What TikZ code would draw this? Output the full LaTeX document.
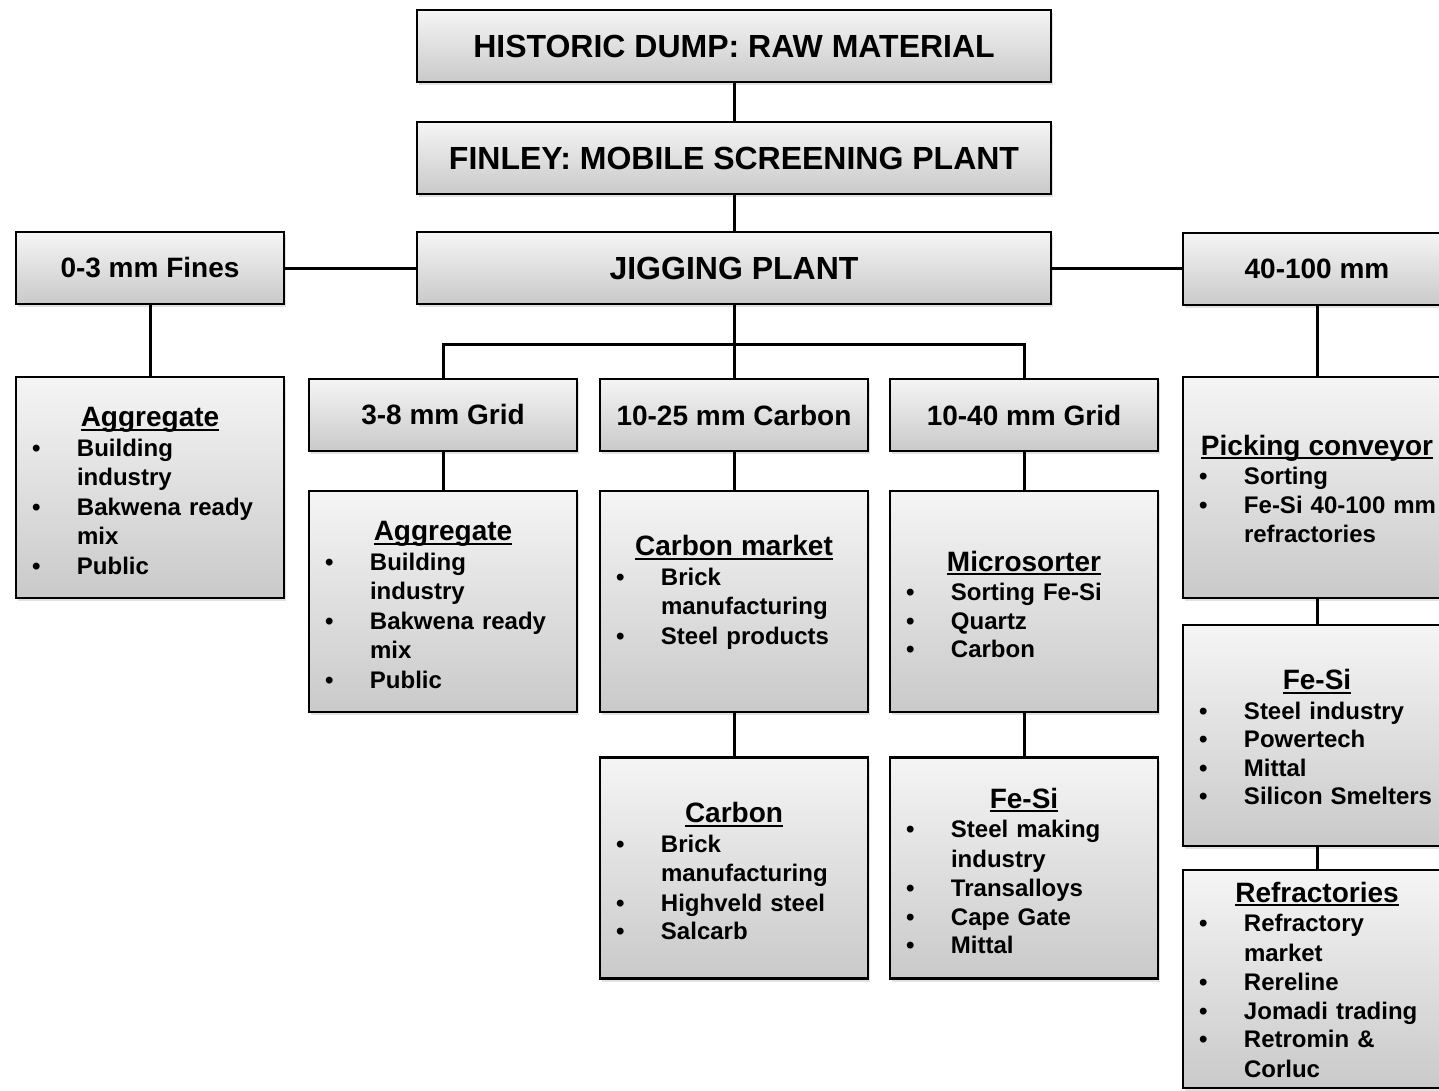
\documentclass[tikz,border=0pt]{standalone}
\usepackage{fontspec}
\setmainfont{Liberation Sans}
\usetikzlibrary{shadows}

% underlined heading and bullet line inside a market box
\newsavebox{\hdbox}
\newcommand{\hdline}[1]{\sbox{\hdbox}{#1}\rlap{\rule[-4pt]{\wd\hdbox}{2pt}}\usebox{\hdbox}}
\newcommand{\hd}[2][35pt]{\noindent{\fontsize{28}{32}\selectfont\rule{0pt}{#1}\makebox[\linewidth]{\hdline{#2}}\par}\vspace{1pt}}
\newcommand{\itm}[1]{\par\vspace{-1pt}\lineskiplimit=-6pt\relax\noindent\makebox[45pt][l]{\textbullet}\begin{tabular}[t]{@{}l@{}}#1\end{tabular}\par}

\tikzset{
  box/.style={draw, line width=2.5pt, top color=gray!8, bottom color=gray!42,
    inner sep=0pt, drop shadow={shadow xshift=2pt, shadow yshift=-3pt, fill=gray!45, opacity=0.5}},
  bigbox/.style={box, minimum width=634pt, minimum height=72pt,
    font=\fontsize{32}{38}\selectfont\bfseries},
  sizebox/.style={box, minimum width=268pt, minimum height=72pt,
    font=\fontsize{28}{34}\selectfont\bfseries},
  listbox/.style={box, minimum height=221pt, text width=236pt, inner xsep=16pt,
    align=left, font=\fontsize{24}{29.5}\selectfont\bfseries},
  link/.style={line width=3pt}
}

\begin{document}
\begin{tikzpicture}[x=1pt, y=-1pt]
  \fill[white] (0,0) rectangle (1439,1091);
  \useasboundingbox (0,0) rectangle (1439,1091);

  % main chain
  \node[bigbox] (dump) at (734,46) {HISTORIC DUMP: RAW MATERIAL};
  \node[bigbox] (finley) at (734,158) {FINLEY: MOBILE SCREENING PLANT};
  \node[bigbox] (jig) at (734,268) {JIGGING PLANT};

  % size fractions
  \node[sizebox] (fines) at (150,268) {0-3 mm Fines};
  \node[sizebox] (coarse) at (1317,269) {40-100 mm};
  \node[sizebox] (grid38) at (443,415) {3-8 mm Grid};
  \node[sizebox] (carb1025) at (734,415) {10-25 mm Carbon};
  \node[sizebox] (grid1040) at (1024,415) {10-40 mm Grid};

  % markets
  \node[listbox] (aggA) at (150,487.5) {\hd{Aggregate}
    \itm{Building\\industry}\itm{Bakwena ready\\mix}\itm{Public}};
  \node[listbox] (aggB) at (443,601.5) {\hd{Aggregate}
    \itm{Building\\industry}\itm{Bakwena ready\\mix}\itm{Public}};
  \node[listbox] (market) at (734,601.5) {\hd{Carbon market}
    \itm{Brick\\manufacturing}\itm{Steel products}\vspace{9pt}\noindent\mbox{}};
  \node[listbox] (sorter) at (1024,601.5) {\hd{Microsorter}
    \itm{Sorting Fe-Si}\itm{Quartz}\itm{Carbon}};
  \node[listbox] (carbon) at (734,868) {\hd{Carbon}
    \itm{Brick\\manufacturing}\itm{Highveld steel}\itm{Salcarb}};
  \node[listbox] (fesiA) at (1024,868) {\hd{Fe-Si}
    \itm{Steel making\\industry}\itm{Transalloys}\itm{Cape Gate}\itm{Mittal}};
  \node[listbox] (picking) at (1317,487.5) {\hd[32pt]{Picking conveyor}
    \itm{Sorting}\itm{Fe-Si 40-100 mm\\refractories}};
  \node[listbox] (fesiB) at (1317,735.5) {\hd[32pt]{Fe-Si}
    \itm{Steel industry}\itm{Powertech}\itm{Mittal}\itm{Silicon Smelters}};
  \node[listbox, minimum height=218pt] (refract) at (1317,979) {\hd[30pt]{Refractories}
    \itm{Refractory\\market}\itm{Rereline}\itm{Jomadi trading}\itm{Retromin \&\\Corluc}};

  % connectors
  \coordinate (split) at (734,344);
  \draw[link] (dump) -- (finley);
  \draw[link] (finley) -- (jig);
  \draw[link] (fines) -- (jig);
  \draw[link] (jig.east) -- (jig.east -| coarse.west);
  \draw[link] (fines) -- (aggA);
  \draw[link] (jig) -- (carb1025);
  \draw[link] (grid38) |- (split) -| (grid1040);
  \draw[link] (grid38) -- (aggB);
  \draw[link] (carb1025) -- (market);
  \draw[link] (market) -- (carbon);
  \draw[link] (grid1040) -- (sorter);
  \draw[link] (sorter) -- (fesiA);
  \draw[link] (coarse) -- (picking);
  \draw[link] (picking) -- (fesiB);
  \draw[link] (fesiB) -- (refract);
\end{tikzpicture}
\end{document}
